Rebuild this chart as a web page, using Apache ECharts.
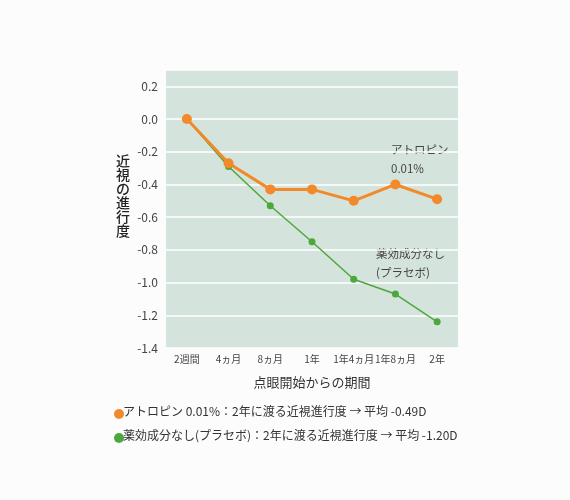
<!DOCTYPE html>
<html>
<head>
<meta charset="utf-8">
<script src="https://cdn.jsdelivr.net/npm/echarts@6/dist/echarts.min.js"></script>
<style>
  html, body { margin: 0; padding: 0; background: #fbfcfb; }
  #chart { width: 570px; height: 500px; }
</style>
</head>
<body>
<div id="chart"></div>
<script>
  // 期間ラベル
  const periods = ['2週間', '4ヵ月', '8ヵ月', '1年', '1年4ヵ月', '1年8ヵ月', '2年'];
  // アトロピン 0.01%
  const atropine = [0.0, -0.27, -0.43, -0.43, -0.50, -0.40, -0.49];
  // 薬効成分なし（プラセボ）
  const placebo = [0.0, -0.29, -0.53, -0.75, -0.98, -1.07, -1.24];
  const yTicks = [-1.4, -1.2, -1.0, -0.8, -0.6, -0.4, -0.2, 0.0, 0.2];
  const legendLines = [
    'アトロピン 0.01%：2年に渡る近視進行度 → 平均 -0.49D',
    '薬効成分なし(プラセボ)：2年に渡る近視進行度 → 平均 -1.20D'
  ];

  const orange = '#f28a2a';
  const green = '#4da83b';
  const font = '"Noto Sans CJK JP", "Noto Sans", sans-serif';

  const chart = echarts.init(document.getElementById('chart'));
  const option = {
    backgroundColor: '#fbfcfb',
    textStyle: { fontFamily: font },
    grid: {
      left: 166, right: 112, top: 70, bottom: 152,
      show: true, backgroundColor: '#d4e3dc', borderWidth: 0
    },
    xAxis: {
      type: 'category',
      data: periods,
      boundaryGap: true,
      axisLine: { show: false },
      axisTick: { show: false },
      axisLabel: { color: '#444', fontSize: 10, margin: 6, interval: 0 },
      name: '点眼開始からの期間',
      nameLocation: 'middle',
      nameGap: 28,
      nameTextStyle: { color: '#333', fontSize: 13 }
    },
    yAxis: {
      type: 'value',
      min: -1.4,
      max: 0.3,
      interval: 0.2,
      axisLine: { show: false },
      axisTick: { show: false },
      axisLabel: {
        color: '#444', fontSize: 12, margin: 8,
        formatter: function (v) {
          const r = Math.round(v * 10) / 10;
          return yTicks.indexOf(r) >= 0 && Math.abs(v - r) < 1e-6 ? r.toFixed(1) : '';
        }
      },
      splitLine: { lineStyle: { color: '#ffffff', width: 1.5 } }
    },
    graphic: [
      {
        type: 'text', left: 116, top: 154,
        style: { text: '近\n視\nの\n進\n行\n度', fill: '#222', font: '500 14px ' + font, lineHeight: 14 }
      },
      {
        type: 'text', left: 391, top: 140,
        style: { text: 'アトロピン\n0.01%', fill: '#444', font: '11.5px ' + font, lineHeight: 19 }
      },
      {
        type: 'text', left: 376, top: 244,
        style: { text: '薬効成分なし\n(プラセボ)', fill: '#444', font: '11.5px ' + font, lineHeight: 19 }
      },
      { type: 'circle', shape: { cx: 119, cy: 414, r: 5 }, style: { fill: orange } },
      {
        type: 'text', left: 123, top: 405,
        style: { text: legendLines[0], fill: '#333', font: '12px ' + font }
      },
      { type: 'circle', shape: { cx: 119, cy: 438, r: 5 }, style: { fill: green } },
      {
        type: 'text', left: 123, top: 429,
        style: { text: legendLines[1], fill: '#333', font: '12px ' + font }
      }
    ],
    series: [
      {
        name: '薬効成分なし(プラセボ)',
        type: 'line',
        data: placebo,
        symbol: 'circle',
        symbolSize: 7,
        lineStyle: { color: green, width: 1.5 },
        itemStyle: { color: green },
        z: 2
      },
      {
        name: 'アトロピン 0.01%',
        type: 'line',
        data: atropine,
        symbol: 'circle',
        symbolSize: 10,
        lineStyle: { color: orange, width: 3 },
        itemStyle: { color: orange },
        z: 3
      }
    ]
  };
  chart.setOption(option);
</script>
</body>
</html>
